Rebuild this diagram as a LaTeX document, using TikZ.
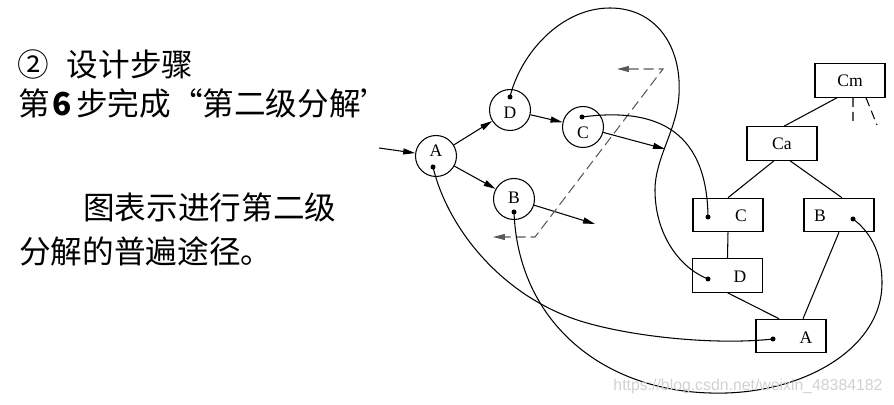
\documentclass[tikz,border=0pt]{standalone}
\usepackage{fontspec}
\setmainfont{Liberation Serif}
\newfontfamily\cjk{Noto Sans CJK SC}
\newfontfamily\wmsans{Liberation Sans}
\usetikzlibrary{arrows.meta}
\tikzset{
  modcirc/.style = {circle, draw, line width=0.6pt, minimum size=8.2mm, inner sep=0},
  modbox/.style  = {rectangle, draw, line width=0.6pt, minimum width=14mm, minimum height=6.7mm, inner sep=0, font=\fontsize{10}{12}\selectfont},
  jdot/.style    = {circle, fill, minimum size=1mm, inner sep=0},
  link/.style    = {line width=0.6pt},
  flow/.style    = {line width=0.6pt, -{Triangle[length=2.4mm,width=1.2mm]}},
  back/.style    = {line width=0.6pt, black!65, dash pattern=on 2mm off 1mm, {Triangle[length=2.4mm,width=1.2mm]}-{Triangle[length=2.4mm,width=1.2mm]}},
  et/.style      = {font=\fontsize{10}{12}\selectfont, inner sep=0},
  txt/.style     = {font=\cjk\fontsize{18}{20}\selectfont, anchor=base west, inner sep=0},
  wm/.style      = {font=\wmsans\fontsize{9}{10}\selectfont, text=black!18, inner sep=0}
}
\begin{document}
\begin{tikzpicture}[x=0.02cm, y=-0.02cm]
  \useasboundingbox (0,0) rectangle (894,405);
  % testo a sinistra
  \node[txt] (t1) at (17,77)  {②\hspace{0.36cm}设计步骤};
  \node[txt] (t2) at (18,116) {第\hspace{0.06cm}{\bfseries 6}\hspace{0.08cm}步完成“第二级分解’};
  \node[txt] (t3) at (83,220) {图表示进行第二级};
  \node[txt] (t4) at (19,264) {分解的普遍途径。};

  % moduli (cerchi)
  \node[modcirc] (cA) at (436,156) {}; \node[et] at (436,151) {A}; \node[jdot] (dA) at (433,167) {};
  \node[modcirc] (cD) at (510,110) {}; \node[et] at (510,113) {D}; \node[jdot] (dD) at (510,97) {};
  \node[modcirc] (cC) at (583,127) {}; \node[et] at (583,133) {C}; \node[jdot] (dC) at (582,117) {};
  \node[modcirc] (cB) at (514,199) {}; \node[et] at (514,198) {B}; \node[jdot] (dB) at (514,212) {};
  \coordinate (inA) at (379,148); \coordinate (outB) at (595,224); \coordinate (outC) at (665,149);
  \draw[flow] (inA) -- (cA);
  \draw[flow] (cA) -- (cD);
  \draw[flow] (cA) -- (cB);
  \draw[flow] (cD) -- (cC);
  \draw[flow] (cB) -- (outB);
  \draw[flow] (cC) -- (outC);

  % ritorno tratteggiato
  \coordinate (bk1) at (617,69); \coordinate (bk2) at (663,69);
  \coordinate (bk3) at (535,237); \coordinate (bk4) at (493,237);
  \draw[back] (bk1) -- (bk2) -- (bk3) -- (bk4);

  % albero
  \node[modbox] (bCm) at (850,80.5) {Cm};
  \node[modbox] (bCa) at (782,143.5) {Ca};
  \node[modbox] (bC) at (728,215) {};    \node[et] at (741,216) {C}; \node[jdot] (dCb) at (708,217) {};
  \node[modbox] (bB) at (839,215) {};    \node[et] at (820,216) {B}; \node[jdot] (dBb) at (853,219) {};
  \node[modbox] (bD) at (727.5,275.5) {}; \node[et] at (740,277) {D}; \node[jdot] (dDb) at (708,279) {};
  \node[modbox] (bA) at (791,336) {};    \node[et] at (806,338) {A}; \node[jdot] (dAb) at (773,339) {};
  \coordinate (cm1) at (853,123); \coordinate (cm2) at (877,125);
  \draw[link] ([xshift=-0.26cm]bCm.south) -- ([xshift=0.04cm]bCa.north);
  \draw[link, dash pattern=on 0.18cm off 0.1cm] ([xshift=0.06cm]bCm.south) -- (cm1);
  \draw[link, dash pattern=on 0.18cm off 0.1cm] ([xshift=0.32cm]bCm.south) -- (cm2);
  \draw[link] ([xshift=-0.16cm]bCa.south) -- (bC.north);
  \draw[link] ([xshift=0.16cm]bCa.south) -- ([xshift=0.06cm]bB.north);
  \draw[link] (bC.south) -- (bD.north);
  \draw[link] (bD.south) -- ([xshift=-0.24cm]bA.north);
  \draw[link] (bB.south) -- ([xshift=0.24cm]bA.north);

  % corrispondenze
  \draw[link] (dD.center) .. controls (520,55) and (560,8) .. (610,8)
    .. controls (655,8) and (682,45) .. (679,95)
    .. controls (677,130) and (655,158) .. (655,190)
    .. controls (655,235) and (680,268) .. (dDb.center);
  \draw[link] (dC.center) .. controls (650,108) and (707,125) .. (dCb.center);
  \draw[link] (dA.center) .. controls (448,230) and (505,300) .. (587,323)
    .. controls (640,338) and (720,345) .. (dAb.center);
  \draw[link] (dB.center) .. controls (518,320) and (600,390) .. (710,393)
    .. controls (800,396) and (882,350) .. (882,283)
    .. controls (882,250) and (868,230) .. (dBb.center);

  \node[wm] (wmark) at (748,386) {https://blog.csdn.net/weixin\_48384182};
\end{tikzpicture}
\end{document}
